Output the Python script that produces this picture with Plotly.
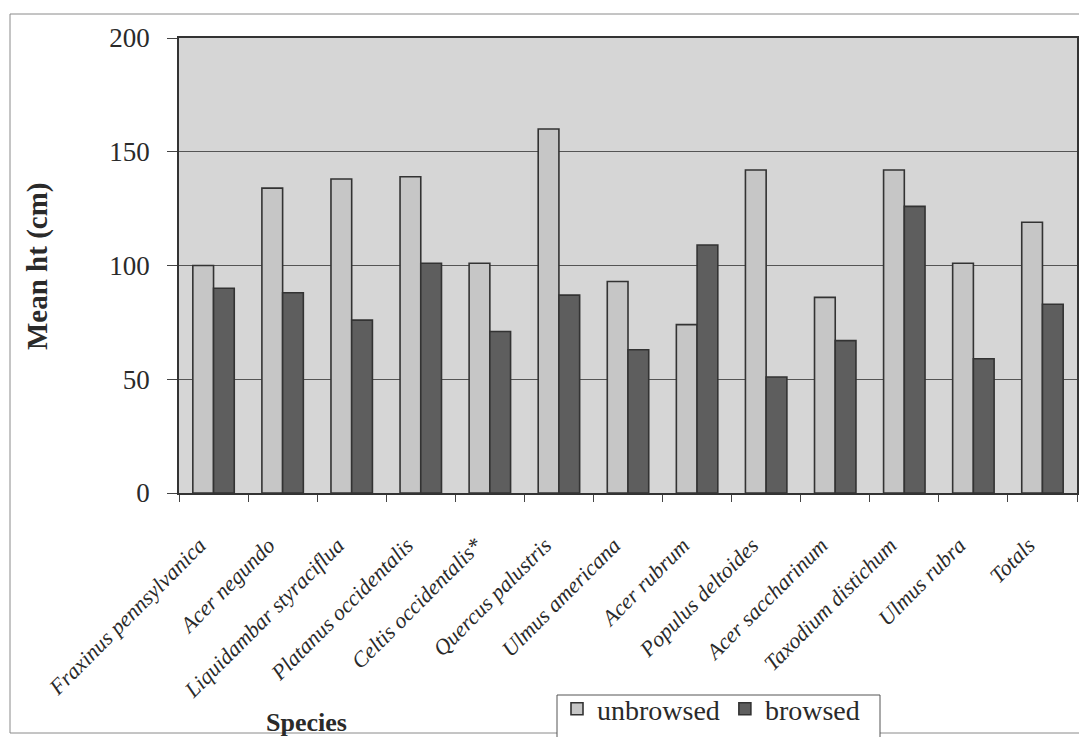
import plotly.graph_objects as go

# Mean seedling height by species, unbrowsed vs browsed
species = [
    "Fraxinus pennsylvanica", "Acer negundo", "Liquidambar styraciflua",
    "Platanus occidentalis", "Celtis occidentalis*", "Quercus palustris",
    "Ulmus americana", "Acer rubrum", "Populus deltoides", "Acer saccharinum",
    "Taxodium distichum", "Ulmus rubra", "Totals",
]
unbrowsed = [100, 134, 138, 139, 101, 160, 93, 74, 142, 86, 142, 101, 119]
browsed = [90, 88, 76, 101, 71, 87, 63, 109, 51, 67, 126, 59, 83]

y_ticks = [0, 50, 100, 150, 200]

SERIF = "Liberation Serif, Times New Roman, serif"
TEXT = "#2a2a2a"
EDGE = "#333333"

# plot-area box in pixels, used to place free annotations in paper units
W, H = 1079, 737
L, R, T, B = 179, 2, 38, 244
pw, ph = W - L - R, H - T - B


def px(x):
    return (x - L) / pw


def py(y):
    return (H - B - y) / ph


fig = go.Figure()
fig.add_trace(go.Bar(
    name="unbrowsed", x=species, y=unbrowsed,
    marker=dict(color="#c6c6c6", line=dict(color=EDGE, width=1.6)),
))
fig.add_trace(go.Bar(
    name="browsed", x=species, y=browsed,
    marker=dict(color="#5e5e5e", line=dict(color=EDGE, width=1.6)),
))

fig.update_layout(
    width=W, height=H,
    margin=dict(l=L, r=R, t=T, b=B, autoexpand=False),
    paper_bgcolor="white",
    plot_bgcolor="#d6d6d6",
    barmode="group",
    bargap=0.40,
    bargroupgap=0.0,
    font=dict(family=SERIF, color=TEXT),
    legend=dict(
        orientation="h",
        x=px(557), y=py(684), xanchor="left", yanchor="top",
        bgcolor="rgba(0,0,0,0)", borderwidth=0,
        font=dict(family=SERIF, size=28, color=TEXT),
        traceorder="normal",
    ),
    showlegend=True,
)

fig.update_xaxes(
    type="category",
    tickson="boundaries",
    ticks="outside", ticklen=7, tickcolor="#444444",
    showline=True, mirror=True, linecolor=EDGE, linewidth=1.5,
    showgrid=False,
    tickangle=-45,
    ticklabelstandoff=29,
    ticklabelshift=-14,
    tickfont=dict(family=SERIF, size=22, style="italic", color=TEXT),
)

fig.update_yaxes(
    range=[0, 200],
    tickvals=y_ticks,
    ticks="outside", ticklen=10, tickcolor="#444444",
    ticklabelstandoff=12,
    showline=True, mirror=True, linecolor=EDGE, linewidth=1.5,
    showgrid=True, gridcolor="#555555", gridwidth=1,
    zeroline=False,
    tickfont=dict(family=SERIF, size=27, color=TEXT),
)

# axis titles
fig.add_annotation(
    text="<b>Mean ht (cm)</b>", textangle=-90,
    xref="paper", yref="paper", x=px(37), y=py(266),
    xanchor="center", yanchor="middle", showarrow=False,
    font=dict(family=SERIF, size=29, color=TEXT),
)
fig.add_annotation(
    text="<b>Species</b>",
    xref="paper", yref="paper", x=px(306), y=py(722),
    xanchor="center", yanchor="middle", showarrow=False,
    font=dict(family=SERIF, size=26, color=TEXT),
)

# outer chart frame
fig.add_shape(
    type="rect", xref="paper", yref="paper",
    x0=px(10), y0=py(733), x1=px(1095), y1=py(14),
    line=dict(color="#8a8a8a", width=1), fillcolor="rgba(0,0,0,0)",
    layer="below",
)

# legend frame
fig.add_shape(
    type="rect", xref="paper", yref="paper",
    x0=px(557), y0=py(750), x1=px(880), y1=py(695),
    line=dict(color="#555555", width=1), fillcolor="white",
    layer="below",
)

fig.write_html("out.html")
